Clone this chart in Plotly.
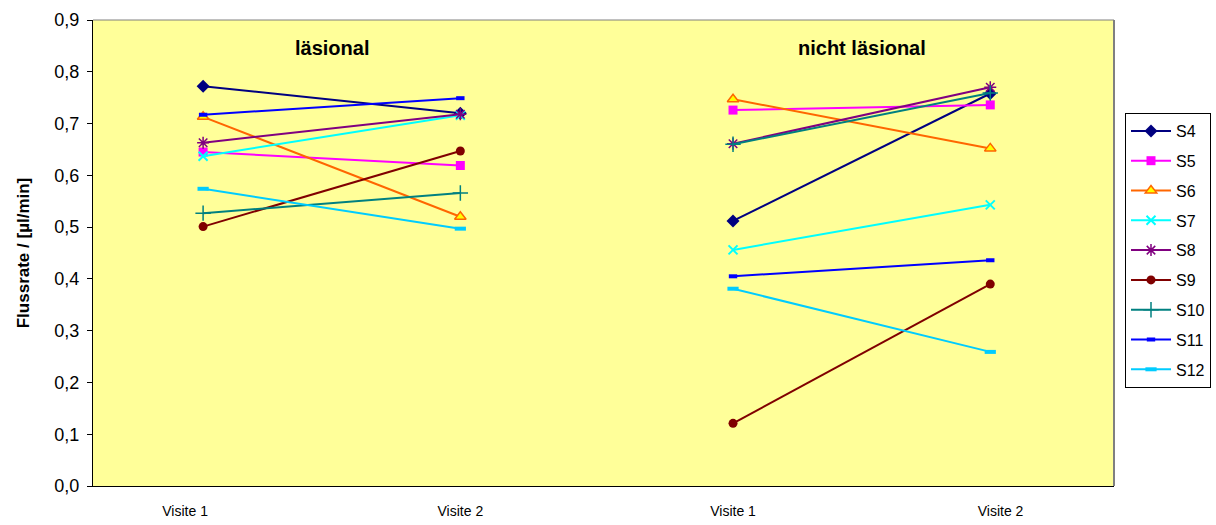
import plotly.graph_objects as go

# ---- data ----
series_names = ["S4", "S5", "S6", "S7", "S8", "S9", "S10", "S11", "S12"]
tick_labels = ["Visite 1", "Visite 2", "Visite 1", "Visite 2"]
group_titles = ["läsional", "nicht läsional"]

# läsional: Visite 1, Visite 2
les_v1 = [0.772, 0.645, 0.713, 0.637, 0.663, 0.501, 0.527, 0.717, 0.574]
les_v2 = [0.720, 0.619, 0.520, 0.716, 0.718, 0.647, 0.566, 0.749, 0.497]
# nicht läsional: Visite 1, Visite 2
non_v1 = [0.512, 0.726, 0.747, 0.456, 0.661, 0.121, 0.660, 0.405, 0.381]
non_v2 = [0.758, 0.736, 0.652, 0.543, 0.770, 0.390, 0.759, 0.436, 0.259]

# ---- styles ----
X_POS = [0, 1, 2.06, 3.06]          # marker positions
TICK_POS = [-0.07, 1, 2.06, 3.10]   # label positions
colors = ["#000080", "#FF00FF", "#FF6600", "#00FFFF", "#800080",
          "#800000", "#008080", "#0000FF", "#00CCFF"]
symbols = ["diamond", "square", "triangle-up", "x-thin-open", "asterisk-open",
           "circle", "cross-thin-open", "line-ew-open", "line-ew-open"]
fills = ["#000080", "#FF00FF", "#FFFF00", "#00FFFF", "#800080",
         "#800000", "#008080", "#0000FF", "#00CCFF"]
sizes = [10, 9, 10, 9, 10, 9, 11, 6, 8]
mline = [0, 0, 1.5, 2, 1.5, 0, 1.5, 4, 4]

fig = go.Figure()
for i, name in enumerate(series_names):
    xs = [X_POS[0], X_POS[1], None, X_POS[2], X_POS[3]]
    ys = [les_v1[i], les_v2[i], None, non_v1[i], non_v2[i]]
    fig.add_trace(go.Scatter(
        x=xs, y=ys, name=name, mode="lines+markers",
        legendgroup=name,
        line=dict(color=colors[i], width=2),
        marker=dict(symbol=symbols[i], size=sizes[i], color=fills[i],
                    line=dict(color=colors[i], width=mline[i])),
        connectgaps=False,
    ))

font_family = "Arial, Liberation Sans, sans-serif"
fig.update_layout(
    width=1216, height=525,
    margin=dict(l=93, r=102, t=20, b=39),
    paper_bgcolor="white", plot_bgcolor="#FFFF99",
    separators=",.",
    font=dict(family=font_family, color="black", size=14),
    showlegend=True,
    legend=dict(xref="container", yref="container",
                x=1125 / 1216, y=(525 - 113) / 525, xanchor="left", yanchor="top",
                bgcolor="white", bordercolor="black", borderwidth=1,
                font=dict(size=16), tracegroupgap=6, traceorder="grouped",
                itemwidth=40, entrywidth=38, maxheight=400),
    xaxis=dict(range=[-0.428, 3.541], tickmode="array", tickvals=TICK_POS,
               ticktext=tick_labels, showgrid=False, zeroline=False,
               showline=True, linecolor="black", linewidth=1,
               ticks="", ticklabelstandoff=12, automargin=False,
               tickfont=dict(size=14)),
    yaxis=dict(range=[0, 0.9], dtick=0.1, tickformat=".1f", showgrid=False,
               zeroline=False, showline=True, linecolor="black", linewidth=1,
               ticks="outside", ticklen=5, tickcolor="black",
               ticklabelstandoff=4, automargin=False,
               tickfont=dict(size=18),
               title=dict(text="<b>Flussrate / [µl/min]</b>",
                          font=dict(size=17), standoff=20)),
)

# plot area border (grey on top/right)
fig.add_shape(type="line", xref="paper", yref="paper", x0=0, x1=1, y0=1, y1=1,
              line=dict(color="#808080", width=1))
fig.add_shape(type="line", xref="paper", yref="paper", x0=1, x1=1, y0=0, y1=1,
              line=dict(color="#808080", width=2))

for title, xc in zip(group_titles, [(X_POS[0] + X_POS[1]) / 2, (X_POS[2] + X_POS[3]) / 2]):
    fig.add_annotation(x=xc, y=0.845, xref="x", yref="y", text=f"<b>{title}</b>",
                       showarrow=False, font=dict(size=20, family=font_family))

fig.write_html("out.html", config={"displayModeBar": False},
               post_script="document.body.style.margin='0px';")
